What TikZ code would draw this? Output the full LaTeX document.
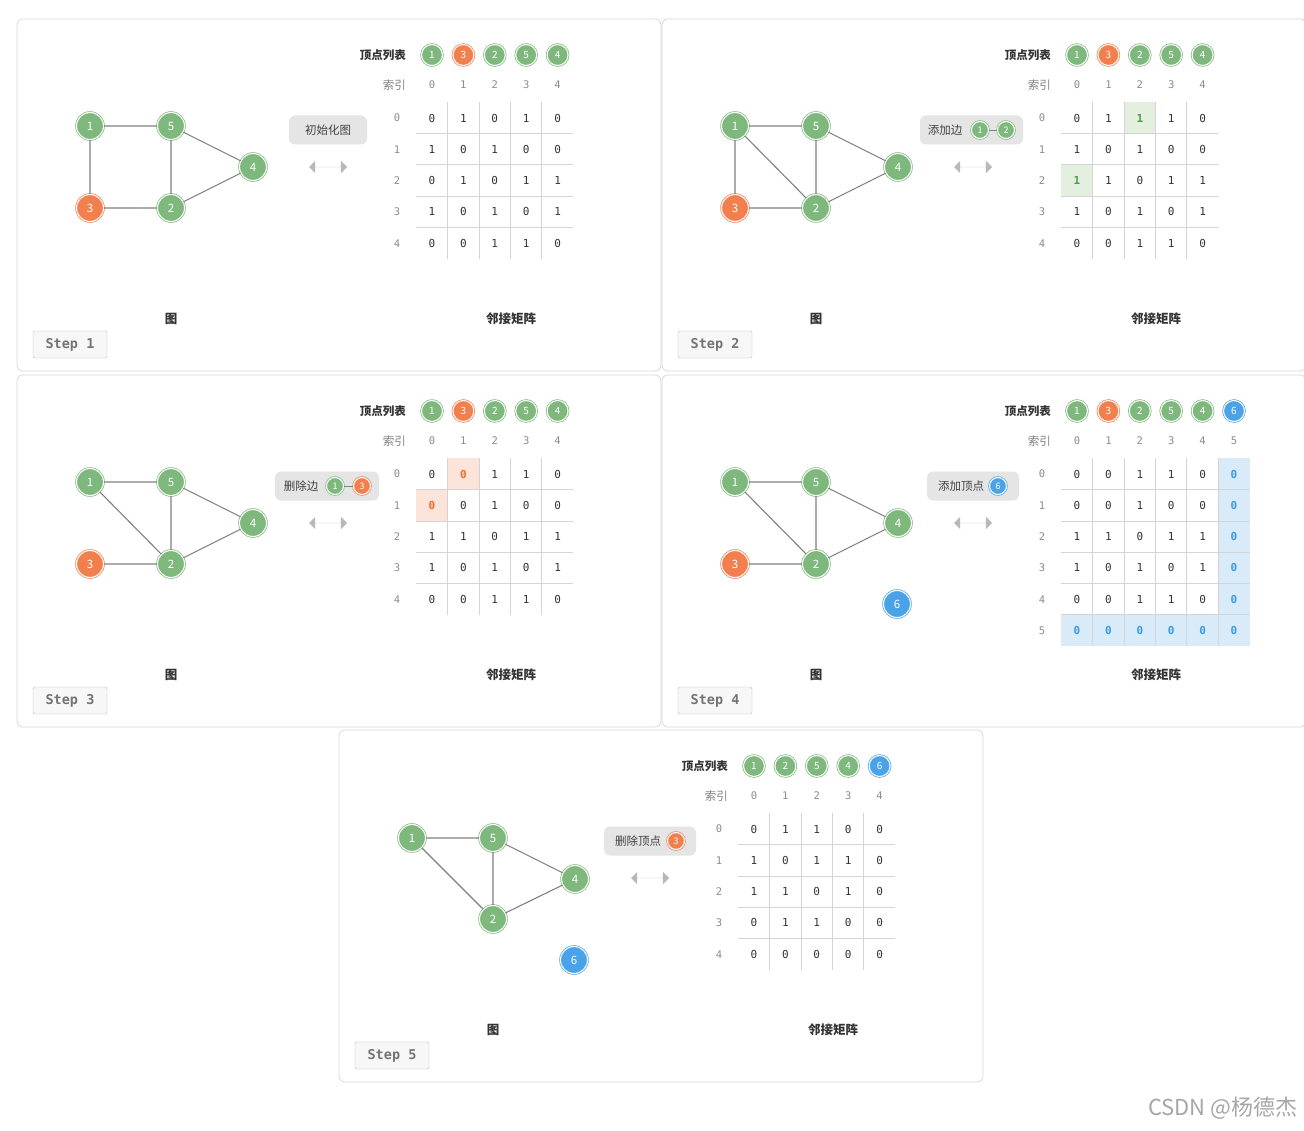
\documentclass[tikz,border=0pt]{standalone}
\usepackage{fontspec}
\setmainfont{Noto Sans CJK SC}
\newfontfamily\monof{DejaVu Sans Mono}
\usetikzlibrary{shapes.arrows}
\definecolor{gG}{HTML}{7EB87D}
\definecolor{gO}{HTML}{F2804F}
\definecolor{gB}{HTML}{4AA3E8}
\definecolor{hGf}{HTML}{E3EFDF}\definecolor{hGt}{HTML}{4E9A4C}
\definecolor{hOf}{HTML}{FDE4DA}\definecolor{hOt}{HTML}{F06A2C}
\definecolor{hBf}{HTML}{D9EBF9}\definecolor{hBt}{HTML}{3A9BE0}
\definecolor{gridc}{HTML}{D4D4D4}
\definecolor{txt}{HTML}{333333}
\tikzset{
 vbase/.style={circle, inner sep=0, text=white, line width=0.7pt, double distance=1.1pt, double=white},
 vg/.style={vbase, fill=gG, draw=gG},
 vo/.style={vbase, fill=gO, draw=gO},
 vb/.style={vbase, fill=gB, draw=gB},
 big/.style={minimum size=27pt, font=\fontsize{11.5}{12}\selectfont},
 sm/.style={minimum size=21pt, font=\fontsize{10}{10}\selectfont},
 tiny/.style={minimum size=17pt, font=\fontsize{9}{9}\selectfont},
 edge/.style={draw=black!50, line width=1.1pt},
 cell/.style={minimum width=31.4pt, minimum height=31.3pt, inner sep=0, text=txt, font=\monof\fontsize{11}{11}\selectfont},
 idx/.style={inner sep=0, text=black!45, font=\monof\fontsize{10.5}{11}\selectfont},
 hgreen/.style={fill=hGf, text=hGt, font=\monof\bfseries\fontsize{11}{11}\selectfont},
 horange/.style={fill=hOf, text=hOt, font=\monof\bfseries\fontsize{11}{11}\selectfont},
 hblue/.style={fill=hBf, text=hBt, font=\monof\bfseries\fontsize{11}{11}\selectfont},
 panel/.style={draw=black!15, fill=white, rounded corners=6pt, minimum width=644pt, minimum height=352pt, line width=0.8pt},
 stepbox/.style={draw=black!25, fill=black!3, minimum width=74pt, minimum height=27pt, rounded corners=1.5pt, text=black!55, font=\monof\bfseries\fontsize{13.5}{14}\selectfont},
 captxt/.style={text=txt, font=\bfseries\fontsize{12.5}{13}\selectfont},
 lab/.style={anchor=east, inner sep=0, text=txt, font=\bfseries\fontsize{11.5}{12}\selectfont},
 idxl/.style={anchor=east, inner sep=0, text=black!50, font=\fontsize{11.5}{12}\selectfont},
 btn/.style={fill=black!10, rounded corners=6pt, minimum height=29pt, inner sep=0},
 btxt/.style={inner sep=0, text=black!75, font=\fontsize{11.5}{12}\selectfont},
 arr/.style={double arrow, fill=black!28, double arrow head extend=6pt, minimum height=38pt, minimum width=12pt, inner sep=0},
 p2-0-2/.style={hgreen}, p2-2-0/.style={hgreen},
 p3-0-1/.style={horange}, p3-1-0/.style={horange},
 p4-0-5/.style={hblue},p4-1-5/.style={hblue},p4-2-5/.style={hblue},p4-3-5/.style={hblue},p4-4-5/.style={hblue},p4-5-5/.style={hblue},
 p4-5-0/.style={hblue},p4-5-1/.style={hblue},p4-5-2/.style={hblue},p4-5-3/.style={hblue},p4-5-4/.style={hblue},
}
\newcommand\panelbase[2]{%
 \node[panel] (#1box) at (322,176) {};
 \node[stepbox] (#1step) at (53,325.5) {Step #2};
 \node[captxt] (#1capg) at (154,300) {图};
 \node[captxt] (#1capm) at (494,300) {邻接矩阵};
 \node[arr] (#1arr) at (311,148) {};
 \node[lab] (#1vl) at (389,36) {顶点列表};
 \node[idxl] (#1il) at (389,66) {索引};
}
\newcommand\vlist[2]{%
 \foreach \s/\l [count=\i from 0] in {#2} {
   \edef\tmp{\noexpand\node[\s,sm] (#1l\i) at (415+31.4*\i,36) {\l};
     \noexpand\node[idx] (#1i\i) at (415+31.4*\i,66) {\i};}\tmp
 }}
\newcommand\drawmatrix[3]{% prefix, n, rows
 \foreach \row [count=\r from 0] in {#3} {
   \edef\tmp{\noexpand\node[idx] (#1r\r) at (380,99+31.3*\r) {\r};}\tmp
   \foreach \v [count=\c from 0] in \row {
     \edef\tmp{\noexpand\node[cell,#1-\r-\c/.try] (#1c\r-\c) at (415+31.4*\c,99+31.3*\r) {\v};}\tmp
   }
 }
 \pgfmathsetmacro\ybot{99+31.3*(#2-1)+15.65}
 \pgfmathsetmacro\xr{415+31.4*(#2-1)+15.7}
 \pgfmathtruncatemacro\nm{#2-2}
 \foreach \k in {0,...,\nm} {
   \draw[gridc, line width=0.9pt] (415+31.4*\k+15.7,83.35) -- (415+31.4*\k+15.7,\ybot);
   \draw[gridc, line width=0.9pt] (399.3,99+31.3*\k+15.65) -- (\xr,99+31.3*\k+15.65);
 }
}
\begin{document}
\begin{tikzpicture}[x=1pt,y=-1pt]
\useasboundingbox (0,0) rectangle (1304,1131);
\fill[white] (0,0) rectangle (1304,1131);
% ---------- Panel 1
\begin{scope}[shift={(17,19)}]
\panelbase{p1}{1}
\node[btn, minimum width=78pt] (p1btn) at (311,111) {};
\node[btxt] (p1bt) at (311,111) {初始化图};
\vlist{p1}{vg/1,vo/3,vg/2,vg/5,vg/4}
\drawmatrix{p1}{5}{{0,1,0,1,0},{1,0,1,0,0},{0,1,0,1,1},{1,0,1,0,1},{0,0,1,1,0}}
\node[vg,big] (p1v1) at (73,107) {1};
\node[vg,big] (p1v5) at (154,107) {5};
\node[vg,big] (p1v4) at (236,148) {4};
\node[vo,big] (p1v3) at (73,189) {3};
\node[vg,big] (p1v2) at (154,189) {2};
\draw[edge] (p1v1)--(p1v5) (p1v1)--(p1v3) (p1v5)--(p1v2) (p1v5)--(p1v4) (p1v3)--(p1v2) (p1v2)--(p1v4);
\end{scope}
% ---------- Panel 2
\begin{scope}[shift={(662,19)}]
\panelbase{p2}{2}
\node[btn, minimum width=103pt] (p2btn) at (309.5,111) {};
\node[btxt] (p2bt) at (283,111) {添加边};
\node[vg,tiny] (p2b1) at (318,111) {1};
\node[vg,tiny] (p2b2) at (344,111) {2};
\draw[edge, line width=0.9pt] (p2b1)--(p2b2);
\vlist{p2}{vg/1,vo/3,vg/2,vg/5,vg/4}
\drawmatrix{p2}{5}{{0,1,1,1,0},{1,0,1,0,0},{1,1,0,1,1},{1,0,1,0,1},{0,0,1,1,0}}
\node[vg,big] (p2v1) at (73,107) {1};
\node[vg,big] (p2v5) at (154,107) {5};
\node[vg,big] (p2v4) at (236,148) {4};
\node[vo,big] (p2v3) at (73,189) {3};
\node[vg,big] (p2v2) at (154,189) {2};
\draw[edge] (p2v1)--(p2v5) (p2v1)--(p2v3) (p2v1)--(p2v2) (p2v5)--(p2v2) (p2v5)--(p2v4) (p2v3)--(p2v2) (p2v2)--(p2v4);
\end{scope}
% ---------- Panel 3
\begin{scope}[shift={(17,375)}]
\panelbase{p3}{3}
\node[btn, minimum width=104pt] (p3btn) at (310,111) {};
\node[btxt] (p3bt) at (284,111) {删除边};
\node[vg,tiny] (p3b1) at (318,111) {1};
\node[vo,tiny] (p3b3) at (345,111) {3};
\draw[edge, line width=0.9pt] (p3b1)--(p3b3);
\vlist{p3}{vg/1,vo/3,vg/2,vg/5,vg/4}
\drawmatrix{p3}{5}{{0,0,1,1,0},{0,0,1,0,0},{1,1,0,1,1},{1,0,1,0,1},{0,0,1,1,0}}
\node[vg,big] (p3v1) at (73,107) {1};
\node[vg,big] (p3v5) at (154,107) {5};
\node[vg,big] (p3v4) at (236,148) {4};
\node[vo,big] (p3v3) at (73,189) {3};
\node[vg,big] (p3v2) at (154,189) {2};
\draw[edge] (p3v1)--(p3v5) (p3v1)--(p3v2) (p3v5)--(p3v2) (p3v5)--(p3v4) (p3v3)--(p3v2) (p3v2)--(p3v4);
\end{scope}
% ---------- Panel 4
\begin{scope}[shift={(662,375)}]
\panelbase{p4}{4}
\node[btn, minimum width=92pt] (p4btn) at (311,111) {};
\node[btxt] (p4bt) at (299,111) {添加顶点};
\node[vb,tiny] (p4b6) at (336,111) {6};
\vlist{p4}{vg/1,vo/3,vg/2,vg/5,vg/4,vb/6}
\drawmatrix{p4}{6}{{0,0,1,1,0,0},{0,0,1,0,0,0},{1,1,0,1,1,0},{1,0,1,0,1,0},{0,0,1,1,0,0},{0,0,0,0,0,0}}
\node[vg,big] (p4v1) at (73,107) {1};
\node[vg,big] (p4v5) at (154,107) {5};
\node[vg,big] (p4v4) at (236,148) {4};
\node[vo,big] (p4v3) at (73,189) {3};
\node[vg,big] (p4v2) at (154,189) {2};
\node[vb,big] (p4v6) at (235,229) {6};
\draw[edge] (p4v1)--(p4v5) (p4v1)--(p4v2) (p4v5)--(p4v2) (p4v5)--(p4v4) (p4v3)--(p4v2) (p4v2)--(p4v4);
\end{scope}
% ---------- Panel 5
\begin{scope}[shift={(339,730)}]
\panelbase{p5}{5}
\node[btn, minimum width=92pt] (p5btn) at (311,111) {};
\node[btxt] (p5bt) at (299,111) {删除顶点};
\node[vo,tiny] (p5b3) at (337,111) {3};
\vlist{p5}{vg/1,vg/2,vg/5,vg/4,vb/6}
\drawmatrix{p5}{5}{{0,1,1,0,0},{1,0,1,1,0},{1,1,0,1,0},{0,1,1,0,0},{0,0,0,0,0}}
\node[vg,big] (p5v1) at (73,108) {1};
\node[vg,big] (p5v5) at (154,108) {5};
\node[vg,big] (p5v4) at (236,149) {4};
\node[vg,big] (p5v2) at (154,189) {2};
\node[vb,big] (p5v6) at (235,230) {6};
\draw[edge] (p5v1)--(p5v5) (p5v1)--(p5v2) (p5v5)--(p5v2) (p5v5)--(p5v4) (p5v2)--(p5v4);
\end{scope}
\node[anchor=east, text=black!35, font=\fontsize{22}{23}\selectfont] (wm) at (1301,1108) {CSDN @杨德杰};
\end{tikzpicture}
\end{document}
